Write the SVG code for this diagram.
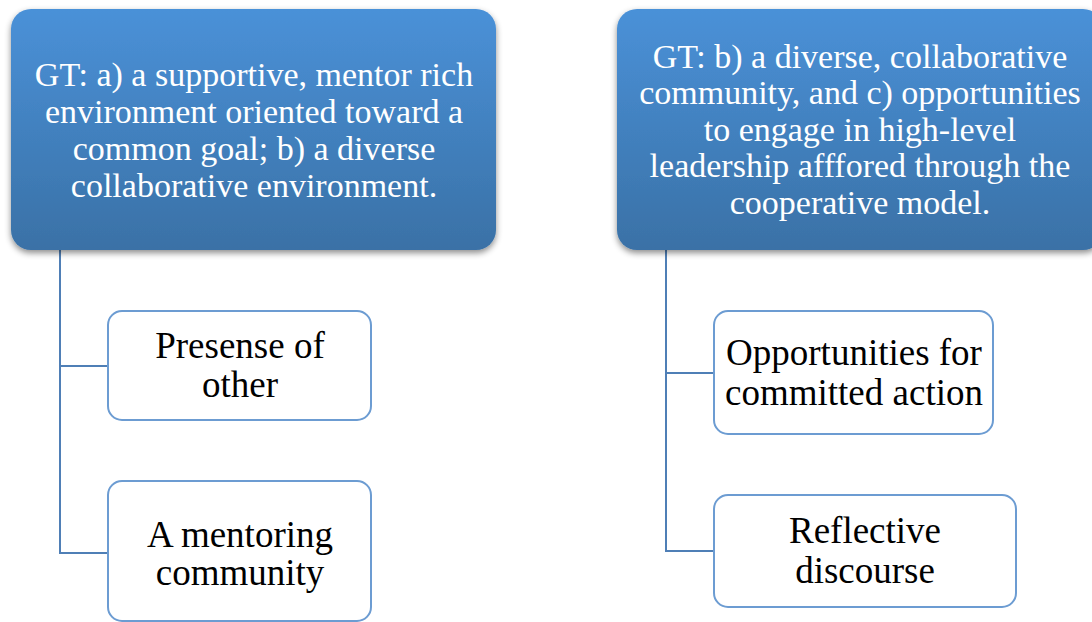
<svg xmlns="http://www.w3.org/2000/svg" width="1092" height="622" viewBox="0 0 1092 622">
  <defs>
    <linearGradient id="hdrGrad" x1="0" y1="0" x2="0" y2="1">
      <stop offset="0" stop-color="#4a91d8"/>
      <stop offset="1" stop-color="#3a71a6"/>
    </linearGradient>
    <filter id="hdrShadow" x="-10%" y="-10%" width="120%" height="130%">
      <feDropShadow dx="0" dy="3" stdDeviation="3" flood-color="#000" flood-opacity="0.45"/>
    </filter>
  </defs>
  <style>
    .hdr { fill: url(#hdrGrad); filter: url(#hdrShadow); }
    .hdr-text { font-family: 'Liberation Serif', 'Times New Roman', serif; font-size: 34px; fill: #ffffff; text-anchor: middle; }
    .child { fill: #ffffff; stroke: #6c9cd2; stroke-width: 2; }
    .child-text { font-family: 'Liberation Serif', 'Times New Roman', serif; font-size: 37px; fill: #000000; text-anchor: middle; }
    .link { fill: none; stroke: #4f7fb6; stroke-width: 2; }
  </style>
  <rect width="1092" height="622" fill="#ffffff"/>

  <!-- tree connectors -->
  <g id="connectors">
    <path class="link" d="M60,248 V553 H108 M60,366 H108"/>
    <path class="link" d="M666,248 V551 H714 M666,373 H714"/>
  </g>

  <!-- left branch -->
  <g id="header-left">
    <rect class="hdr" x="11" y="9" width="485" height="241" rx="20"/>
    <text class="hdr-text" x="254" y="86">GT: a) a supportive, mentor rich</text>
    <text class="hdr-text" x="254" y="123">environment oriented toward a</text>
    <text class="hdr-text" x="254" y="160">common goal; b) a diverse</text>
    <text class="hdr-text" x="254" y="197">collaborative environment.</text>
  </g>
  <g id="child-presense">
    <rect class="child" x="108" y="311" width="263" height="109" rx="14"/>
    <text class="child-text" x="240" y="358">Presense of</text>
    <text class="child-text" x="240" y="397">other</text>
  </g>
  <g id="child-mentoring">
    <rect class="child" x="108" y="481" width="263" height="140" rx="14"/>
    <text class="child-text" x="240" y="547">A mentoring</text>
    <text class="child-text" x="240" y="585">community</text>
  </g>

  <!-- right branch -->
  <g id="header-right">
    <rect class="hdr" x="617" y="9" width="486" height="241" rx="20"/>
    <text class="hdr-text" x="860" y="68">GT: b) a diverse, collaborative</text>
    <text class="hdr-text" x="860" y="104">community, and c) opportunities</text>
    <text class="hdr-text" x="860" y="141">to engage in high-level</text>
    <text class="hdr-text" x="860" y="177">leadership afffored through the</text>
    <text class="hdr-text" x="860" y="214">cooperative model.</text>
  </g>
  <g id="child-opportunities">
    <rect class="child" x="714" y="311" width="279" height="123" rx="14"/>
    <text class="child-text" x="854" y="365">Opportunities for</text>
    <text class="child-text" x="854" y="405">committed action</text>
  </g>
  <g id="child-reflective">
    <rect class="child" x="714" y="495" width="302" height="112" rx="14"/>
    <text class="child-text" x="865" y="543">Reflective</text>
    <text class="child-text" x="865" y="583">discourse</text>
  </g>
</svg>
